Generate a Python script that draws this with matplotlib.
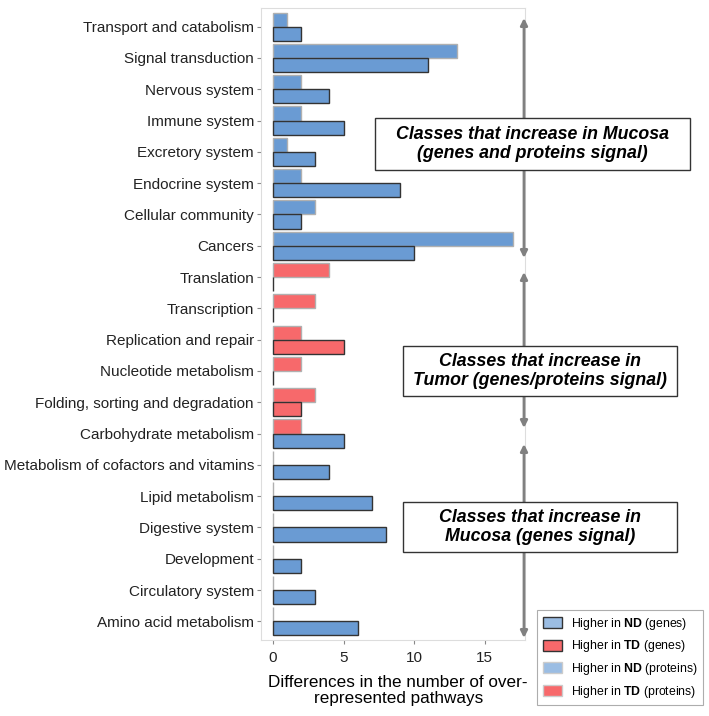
import matplotlib
matplotlib.use("Agg")
import matplotlib.pyplot as plt
from matplotlib.patches import Patch, Rectangle
import numpy as np

plt.rcParams['font.family'] = ['Liberation Sans', 'DejaVu Sans']
plt.rcParams['mathtext.fontset'] = 'custom'
plt.rcParams['mathtext.rm'] = 'Liberation Sans'
plt.rcParams['mathtext.bf'] = 'Liberation Sans:bold'

categories = ["Transport and catabolism", "Signal transduction", "Nervous system",
              "Immune system", "Excretory system", "Endocrine system",
              "Cellular community", "Cancers", "Translation", "Transcription",
              "Replication and repair", "Nucleotide metabolism",
              "Folding, sorting and degradation", "Carbohydrate metabolism",
              "Metabolism of cofactors and vitamins", "Lipid metabolism",
              "Digestive system", "Development", "Circulatory system",
              "Amino acid metabolism"]
proteins = [1, 13, 2, 2, 1, 2, 3, 17, 4, 3, 2, 2, 3, 2, 0, 0, 0, 0, 0, 0]
protein_dir = ["ND"] * 8 + ["TD"] * 6 + ["ND"] * 6
genes = [2, 11, 4, 5, 3, 9, 2, 10, 0, 0, 5, 0, 2, 5, 4, 7, 8, 2, 3, 6]
gene_dir = ["ND"] * 8 + ["TD"] * 5 + ["ND"] * 7

BLUE = "#6a9bd3"
RED = "#f7696b"
colors = {"ND": BLUE, "TD": RED}

fig = plt.figure(figsize=(7.09, 7.16), dpi=100)
ax = fig.add_axes([0.368, 0.106, 0.3725, 0.883])

y = np.arange(len(categories))[::-1] + 1
h = 0.45
ax.barh(y + h / 2, proteins, height=h, color=[colors[d] for d in protein_dir],
        edgecolor="#b0b0b0", linewidth=1.0)
ax.barh(y - h / 2, genes, height=h, color=[colors[d] for d in gene_dir],
        edgecolor="#333333", linewidth=1.0)

ax.set_xlim(-0.85, 17.85)
ax.set_ylim(0.4, len(categories) + 0.6)
ax.set_yticks(y)
ax.set_yticklabels(categories, fontsize=11, color="#222222")
ax.set_xticks([0, 5, 10, 15])
ax.tick_params(axis="x", labelsize=11, labelcolor="#222222", color="#888888",
               length=3, pad=5)
ax.tick_params(axis="y", color="#888888", length=3, pad=2)
for s in ax.spines.values():
    s.set_color("#dddddd")
    s.set_linewidth(0.8)
ax.set_xlabel("Differences in the number of over-\nrepresented pathways", fontsize=12.3,
              labelpad=5, linespacing=1.1)
ax.xaxis.set_label_coords(0.37 + 0.0, -0.055)
ax.xaxis.label.set_x(0.52)

W, H = 709, 716


def fx(px):
    return px / W


def fy(py):
    return 1 - py / H


# double arrows along the right edge
for top, bot in [(18, 258), (272, 428), (444, 638)]:
    ax.annotate("", xy=(fx(524), fy(top)), xytext=(fx(524), fy(bot)),
                xycoords="figure fraction", textcoords="figure fraction",
                arrowprops=dict(arrowstyle="<|-|>", color="#808080", lw=2,
                                mutation_scale=10, shrinkA=0, shrinkB=0))

# annotation boxes
boxes = [
    ((375, 118, 690, 170), "Classes that increase in Mucosa\n(genes and proteins signal)"),
    ((403, 346, 677, 396), "Classes that increase in\nTumor (genes/proteins signal)"),
    ((403, 502, 677, 552), "Classes that increase in\nMucosa (genes signal)"),
]
for (x0, y0, x1, y1), txt in boxes:
    fig.patches.append(Rectangle((fx(x0), fy(y1)), fx(x1) - fx(x0), fy(y0) - fy(y1),
                                 transform=fig.transFigure, facecolor="white",
                                 edgecolor="#333333", linewidth=1.0, zorder=5))
    fig.text(fx((x0 + x1) / 2), fy((y0 + y1) / 2), txt, ha="center", va="center",
             fontsize=12.8, fontweight="bold", fontstyle="italic", linespacing=1.15,
             zorder=6)

handles = [
    Patch(facecolor="#9bbde3", edgecolor="#333333", label=r"Higher in $\bf{ND}$ (genes)"),
    Patch(facecolor=RED, edgecolor="#333333", label=r"Higher in $\bf{TD}$ (genes)"),
    Patch(facecolor="#9bbde3", edgecolor="#cccccc", label=r"Higher in $\bf{ND}$ (proteins)"),
    Patch(facecolor=RED, edgecolor="#cccccc", label=r"Higher in $\bf{TD}$ (proteins)"),
]
leg = fig.legend(handles=handles, loc="upper left", bbox_to_anchor=(fx(537), fy(610)),
                 fontsize=8.8, frameon=True, fancybox=False, edgecolor="#999999",
                 handlelength=1.6, handleheight=1.0, borderpad=0.45, labelspacing=0.55,
                 handletextpad=0.7, borderaxespad=0)
leg.get_frame().set_linewidth(0.8)

fig.savefig("out.png", dpi=100)
